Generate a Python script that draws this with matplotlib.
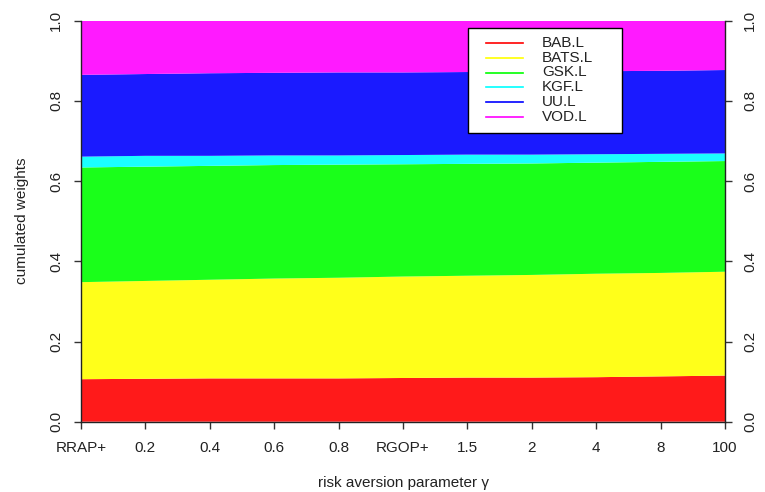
import numpy as np
import matplotlib
matplotlib.use("Agg")
import matplotlib.pyplot as plt
from matplotlib.patches import Rectangle

plt.rcParams['font.family'] = ['Liberation Sans', 'DejaVu Sans']

# risk aversion settings along the x axis
gamma_labels = ["RRAP+", "0.2", "0.4", "0.6", "0.8", "RGOP+", "1.5", "2", "4", "8", "100"]

# portfolio weights per asset
BAB = [0.106, 0.107, 0.108, 0.108, 0.108, 0.109, 0.110, 0.110, 0.111, 0.113, 0.115]
BATS = [0.242, 0.244, 0.246, 0.249, 0.251, 0.253, 0.254, 0.256, 0.258, 0.258, 0.259]
GSK = [0.286, 0.285, 0.284, 0.283, 0.282, 0.280, 0.279, 0.278, 0.277, 0.277, 0.276]
KGF = [0.027, 0.027, 0.025, 0.024, 0.023, 0.023, 0.023, 0.022, 0.021, 0.020, 0.019]
UU = [0.204, 0.204, 0.206, 0.206, 0.207, 0.206, 0.206, 0.207, 0.207, 0.207, 0.208]
VOD = [0.135, 0.133, 0.131, 0.130, 0.129, 0.129, 0.128, 0.127, 0.126, 0.125, 0.123]

assets = ["BAB.L", "BATS.L", "GSK.L", "KGF.L", "UU.L", "VOD.L"]
fill_cols = ["#ff1a1a", "#ffff1a", "#1aff1a", "#1affff", "#1a1aff", "#ff1aff"]
line_cols = ["#ff0000", "#ffff00", "#00ff00", "#00ffff", "#0000ff", "#ff00ff"]

x = np.arange(len(gamma_labels))

W, H = 765, 492
fig = plt.figure(figsize=(W / 100, H / 100), dpi=100)
ax_l, ax_r, ax_t, ax_b = 81, 725, 20.7, 421.7
ax = fig.add_axes([ax_l / W, 1 - ax_b / H, (ax_r - ax_l) / W, (ax_b - ax_t) / H])

ax.stackplot(x, BAB, BATS, GSK, KGF, UU, VOD, colors=fill_cols, linewidth=0)

ax.set_xlim(0, len(gamma_labels) - 1)
ax.set_ylim(0, 1)
ax.set_xticks(x)
ax.set_xticklabels(gamma_labels)
ax.set_yticks([0, 0.2, 0.4, 0.6, 0.8, 1.0])
ax.set_yticklabels(["0.0", "0.2", "0.4", "0.6", "0.8", "1.0"])

ax.spines['top'].set_visible(False)
for s in ['left', 'right', 'bottom']:
    ax.spines[s].set_color('#222222')
    ax.spines[s].set_linewidth(1)

ax.tick_params(axis='both', length=5, width=1, color='#333333',
               labelsize=11, labelcolor='#222222')
ax.tick_params(axis='x', pad=9)
ax.tick_params(axis='y', right=True, labelright=True, labelrotation=90, pad=8)
for t in ax.yaxis.get_major_ticks():
    t.label1.set_va('center')
    t.label2.set_va('center')

ax.set_xlabel("risk aversion parameter γ", fontsize=11, color='#222222', labelpad=15)
ax.set_ylabel("cumulated weights", fontsize=11, color='#222222', labelpad=14)

# legend box drawn by hand, R style (pixel layout -> axes fraction)
def fx(px):
    return (px - ax_l) / (ax_r - ax_l)

def fy(py):
    return (ax_b - py) / (ax_b - ax_t)

ax.add_patch(Rectangle((fx(468), fy(133)), fx(622) - fx(468), fy(28) - fy(133),
                       transform=ax.transAxes, facecolor='white', edgecolor='black',
                       linewidth=1, zorder=5))
for i, (name, c) in enumerate(zip(assets, line_cols)):
    yy = fy(42.7 + i * 14.9)
    ax.plot([fx(486), fx(523)], [yy, yy], transform=ax.transAxes, color=c,
            lw=1.2, zorder=6, clip_on=False)
    ax.text(fx(542), yy, name, transform=ax.transAxes, fontsize=11,
            color='#222222', va='center', ha='left', zorder=6)

fig.savefig("out.png", dpi=100)
